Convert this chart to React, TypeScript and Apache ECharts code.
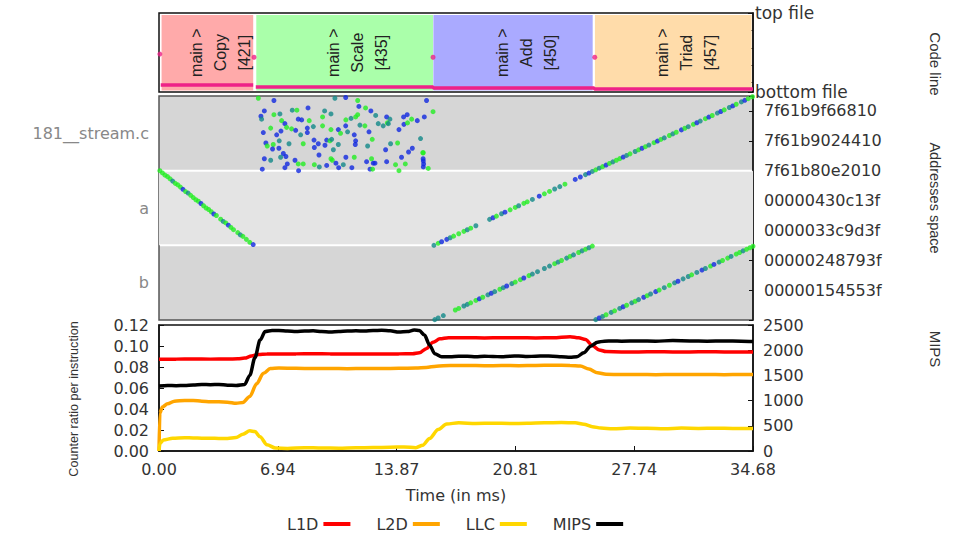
import { useEffect, useRef } from 'react';
import * as echarts from 'echarts';

// ---------- shared time axis ----------
const TIME_MAX = 34.68;
const TIME_INTERVAL = 6.936;

// ---------- code line panel ----------
const codeRegionNames = ['Copy', 'Scale', 'Add', 'Triad'];
const codeRegionLines = [421, 435, 450, 457];
const codeRegionStart = [0.15, 5.68, 16.02, 25.45];
const codeRegionEnd = [5.5, 16.0, 25.32, 34.6];
const codeRegionColors = ['#ffaaaa', '#aaffaa', '#aaaaff', '#ffdcaa'];
const codeEntryMarkers = [[0.05, 0.48], [5.55, 0.44], [16.0, 0.44], [25.44, 0.44]];
const codeLineBand: any[] = [
  [0.1, 0.089], [5.5, 0.089], [5.6, '-'], [5.65, 0.063], [16.0, 0.063],
  [16.02, 0.05], [25.4, 0.05], [25.42, 0.038], [34.68, 0.038],
];

// ---------- address panel ----------
const addrTickValues = [0.4, 0.8, 1.2, 1.6, 2.0, 2.4, 2.8];
const addrTickLabels = ['00000154553f', '00000248793f', '0000033c9d3f', '00000430c13f', '7f61b80e2010', '7f61b9024410', '7f61b9f66810'];
const addrBandCenters = [0.5, 1.5, 2.5];
const addrBandNames = ['b', 'a', '181__stream.c'];
const addrHighlightBand = [[1, 2]];
const dotColors = ['#22ee22', '#118888', '#1028e0'];

// [time, address position, colour index]
const copyLine = [
  [0.05, 2.0, 0], [0.2, 1.97, 0], [0.35, 1.94, 0], [0.5, 1.92, 0], [0.65, 1.89, 0], [0.8, 1.86, 1], [0.95, 1.83, 0],
  [1.1, 1.81, 0], [1.25, 1.78, 0], [1.4, 1.75, 2], [1.55, 1.72, 0], [1.7, 1.7, 1], [1.85, 1.67, 0], [2.0, 1.64, 0],
  [2.15, 1.61, 0], [2.3, 1.59, 0], [2.45, 1.56, 2], [2.6, 1.53, 0], [2.75, 1.5, 0], [2.9, 1.48, 0], [3.05, 1.45, 0],
  [3.2, 1.42, 2], [3.35, 1.4, 0], [3.6, 1.35, 0], [3.75, 1.32, 1], [3.9, 1.3, 0], [4.05, 1.27, 2], [4.2, 1.24, 0],
  [4.35, 1.21, 0], [4.6, 1.17, 0], [4.75, 1.14, 1], [4.9, 1.12, 0], [5.1, 1.08, 0], [5.3, 1.04, 0], [5.5, 1.01, 2],
];

const scaleScatter = [
  [5.8, 2.97, 0], [6.71, 2.94, 2], [10.27, 2.97, 1], [10.9, 2.98, 2], [11.6, 2.94, 0], [15.62, 2.94, 2],
  [6.15, 2.8, 2], [6.71, 2.75, 0], [7.06, 2.76, 1], [5.95, 2.73, 2], [5.99, 2.69, 1], [7.78, 2.81, 1], [8.05, 2.81, 0],
  [8.7, 2.84, 2], [9.67, 2.8, 1], [10.04, 2.76, 1], [11.67, 2.86, 2], [12.06, 2.84, 0], [12.37, 2.8, 2], [12.65, 2.74, 1],
  [13.29, 2.72, 2], [13.48, 2.69, 1], [14.28, 2.72, 2], [14.49, 2.75, 2], [14.75, 2.69, 0], [15.08, 2.67, 2], [15.49, 2.72, 2],
  [16.0, 2.79, 0], [7.16, 2.67, 0], [8.13, 2.69, 2], [8.33, 2.68, 2], [8.77, 2.67, 0], [9.55, 2.72, 0], [10.91, 2.68, 0],
  [11.21, 2.7, 1], [11.48, 2.72, 0], [11.6, 2.75, 0], [7.35, 2.63, 2], [6.52, 2.57, 0], [7.45, 2.58, 0], [7.74, 2.56, 0],
  [7.98, 2.54, 2], [8.66, 2.57, 2], [9.01, 2.59, 1], [9.55, 2.6, 0], [10.04, 2.55, 0], [10.47, 2.55, 2], [10.9, 2.6, 2],
  [11.73, 2.61, 1], [12.02, 2.6, 0], [12.8, 2.63, 1], [13.09, 2.6, 1], [13.33, 2.64, 0], [13.39, 2.63, 1], [14.3, 2.62, 2],
  [14.51, 2.64, 0], [6.09, 2.51, 2], [6.87, 2.48, 2], [7.12, 2.53, 2], [8.27, 2.48, 1], [8.66, 2.51, 2], [10.6, 2.5, 0],
  [11.01, 2.52, 1], [11.4, 2.48, 2], [12.26, 2.52, 2], [14.01, 2.55, 2], [7.02, 2.4, 1], [6.24, 2.37, 2], [6.32, 2.33, 0],
  [6.67, 2.35, 0], [8.42, 2.36, 0], [9.05, 2.41, 2], [9.3, 2.36, 2], [9.79, 2.41, 2], [9.98, 2.4, 0], [10.08, 2.42, 1],
  [10.47, 2.35, 1], [11.48, 2.4, 2], [11.46, 2.35, 2], [12.18, 2.33, 1], [12.45, 2.42, 0], [13.52, 2.36, 1], [13.93, 2.37, 0],
  [15.27, 2.43, 1], [6.63, 2.29, 2], [7.0, 2.3, 2], [7.59, 2.36, 1], [9.07, 2.31, 2], [9.69, 2.34, 2], [10.18, 2.28, 1],
  [13.23, 2.28, 2], [14.57, 2.25, 2], [14.79, 2.3, 2], [15.43, 2.24, 0], [7.26, 2.23, 2], [7.41, 2.19, 2], [9.34, 2.21, 2],
  [7.1, 2.18, 1], [10.91, 2.18, 2], [11.4, 2.18, 0], [14.16, 2.18, 2], [6.15, 2.16, 2], [6.52, 2.14, 1], [7.94, 2.14, 2],
  [10.04, 2.16, 0], [10.12, 2.14, 0], [12.41, 2.16, 0], [12.12, 2.12, 2], [13.29, 2.12, 2], [15.43, 2.13, 2], [7.49, 2.09, 2],
  [8.13, 2.09, 0], [8.42, 2.09, 0], [9.07, 2.08, 0], [9.36, 2.05, 1], [9.79, 2.07, 2], [10.33, 2.1, 2], [10.49, 2.04, 2],
  [10.76, 2.08, 1], [11.26, 2.04, 2], [12.51, 2.1, 2], [12.61, 2.1, 2], [13.81, 2.08, 0], [14.38, 2.09, 0], [15.43, 2.05, 2],
  [15.72, 2.03, 0], [6.03, 2.02, 2], [7.35, 2.04, 2], [8.15, 2.0, 2], [12.32, 2.02, 2], [12.47, 2.02, 0], [14.01, 2.0, 0],
  [15.4, 2.24, 0], [15.42, 2.16, 2], [15.45, 2.09, 2],
];

const addLineA = [
  [16.05, 1.0, 1], [16.3, 1.027, 0], [16.5, 1.048, 2], [16.8, 1.08, 2], [17.0, 1.102, 1], [17.2, 1.123, 0], [17.5, 1.155, 0],
  [17.8, 1.187, 0], [18.0, 1.209, 1], [18.2, 1.23, 0], [18.5, 1.262, 1], [19.3, 1.348, 1], [19.5, 1.369, 2], [19.7, 1.391, 0],
  [20.0, 1.423, 1], [20.2, 1.444, 2], [20.5, 1.476, 0], [20.8, 1.508, 0], [21.0, 1.53, 1], [21.3, 1.562, 0], [21.5, 1.583, 0],
  [21.8, 1.615, 1], [22.2, 1.658, 2], [22.5, 1.69, 0], [22.8, 1.722, 0], [23.1, 1.754, 1], [23.4, 1.786, 1], [23.7, 1.819, 0],
  [24.3, 1.883, 2], [24.6, 1.915, 2], [24.9, 1.947, 1], [25.1, 1.968, 2], [25.3, 1.99, 1], [25.5, 2.011, 0], [25.7, 2.033, 1],
  [25.9, 2.054, 0], [26.1, 2.075, 2], [26.3, 2.097, 0], [26.5, 2.118, 1], [26.7, 2.14, 0], [26.9, 2.161, 0], [27.1, 2.182, 2],
  [27.3, 2.204, 1], [27.5, 2.225, 0], [27.8, 2.257, 1], [28.0, 2.279, 0], [28.2, 2.3, 2], [28.4, 2.321, 0], [28.6, 2.343, 1],
  [28.9, 2.375, 0], [29.1, 2.396, 2], [29.3, 2.418, 0], [29.5, 2.439, 1], [29.8, 2.471, 0], [30.0, 2.493, 1], [30.2, 2.514, 0],
  [30.5, 2.546, 2], [30.7, 2.568, 0], [30.9, 2.589, 1], [31.2, 2.621, 0], [31.4, 2.642, 2], [31.6, 2.664, 1], [31.9, 2.696, 0],
  [32.1, 2.718, 2], [32.3, 2.739, 0], [32.6, 2.771, 1], [32.8, 2.792, 2], [33.0, 2.814, 0], [33.3, 2.846, 1], [33.5, 2.867, 2],
  [33.7, 2.889, 0], [34.0, 2.921, 1], [34.2, 2.942, 2], [34.4, 2.964, 0], [34.65, 2.99, 0],
];

const addLineB = [
  [16.1, 0.005, 1], [16.3, 0.027, 1], [16.6, 0.059, 1], [17.3, 0.134, 0], [17.5, 0.155, 0], [17.8, 0.187, 1], [18.0, 0.209, 1],
  [18.2, 0.23, 0], [18.5, 0.262, 0], [18.7, 0.284, 2], [18.9, 0.305, 0], [19.2, 0.337, 1], [19.4, 0.358, 2], [19.6, 0.38, 1],
  [19.9, 0.412, 0], [20.1, 0.433, 1], [20.3, 0.455, 2], [20.6, 0.487, 1], [20.8, 0.508, 0], [21.1, 0.54, 0], [21.3, 0.562, 2],
  [21.6, 0.594, 0], [21.8, 0.615, 1], [22.1, 0.647, 1], [22.5, 0.69, 1], [22.8, 0.722, 1], [23.1, 0.754, 0], [23.3, 0.776, 1],
  [23.5, 0.797, 0], [23.8, 0.829, 1], [24.0, 0.851, 0], [24.2, 0.872, 1], [24.5, 0.904, 0], [24.7, 0.926, 1], [24.9, 0.947, 0],
  [25.1, 0.968, 1], [25.3, 0.99, 0],
];

const triadLineB = [
  [25.5, 0.005, 1], [25.7, 0.027, 2], [25.9, 0.048, 1], [26.1, 0.07, 0], [26.4, 0.102, 1], [26.6, 0.123, 0], [26.9, 0.155, 1],
  [27.1, 0.177, 2], [27.3, 0.198, 0], [27.6, 0.23, 1], [27.8, 0.251, 0], [28.0, 0.273, 1], [28.3, 0.305, 2], [28.5, 0.326, 0],
  [28.7, 0.348, 1], [29.0, 0.38, 2], [29.2, 0.401, 0], [29.5, 0.433, 1], [29.8, 0.465, 0], [30.1, 0.498, 1], [30.3, 0.519, 2],
  [30.6, 0.551, 1], [30.9, 0.583, 1], [31.1, 0.605, 0], [31.4, 0.637, 1], [31.7, 0.669, 2], [31.9, 0.69, 1], [32.2, 0.722, 0],
  [32.4, 0.744, 2], [32.7, 0.776, 1], [32.9, 0.797, 0], [33.2, 0.829, 0], [33.4, 0.851, 1], [33.7, 0.883, 0], [33.9, 0.904, 0],
  [34.1, 0.926, 1], [34.3, 0.947, 0], [34.5, 0.968, 0], [34.68, 0.988, 0],
];

// ---------- counters panel ----------
const counterTicksLeft = { min: 0, max: 0.12, interval: 0.02 };
const mipsTicks = { min: 0, max: 2500, interval: 500 };

const l1dData = [
  [0, 0.0875], [1, 0.0875], [2, 0.0876], [3, 0.0875], [4, 0.0876], [4.6, 0.0878], [5.0, 0.0885], [5.4, 0.0905], [5.8, 0.0918],
  [6.3, 0.0924], [7, 0.0925], [8, 0.0925], [9, 0.0926], [10, 0.0925], [11, 0.0925], [12, 0.0925], [13, 0.0925], [14, 0.0925],
  [14.8, 0.0926], [15.2, 0.0935], [15.6, 0.0975], [16.0, 0.1035], [16.4, 0.1068], [16.9, 0.1078], [18, 0.1078], [19, 0.1077],
  [20, 0.1078], [21, 0.1078], [22, 0.1077], [23, 0.1078], [24.0, 0.1088], [24.5, 0.1078], [24.9, 0.1062], [25.3, 0.1005],
  [25.7, 0.0962], [26.1, 0.0947], [27, 0.0944], [28, 0.0944], [29, 0.0945], [30, 0.0944], [31, 0.0944], [32, 0.0945],
  [33, 0.0944], [34, 0.0944], [34.68, 0.0944],
];

const l2dData = [
  [0, 0], [0.05, 0.036], [0.2, 0.042], [0.5, 0.045], [0.9, 0.0475], [1.5, 0.0482], [2, 0.048], [2.5, 0.0475], [3, 0.047],
  [3.5, 0.0468], [4, 0.0465], [4.5, 0.0455], [4.9, 0.0462], [5.3, 0.052], [5.7, 0.064], [6.1, 0.074], [6.5, 0.0785], [7, 0.079],
  [8, 0.0788], [9, 0.0785], [10, 0.0786], [11, 0.0784], [12, 0.0786], [13, 0.0785], [14, 0.0787], [15, 0.079], [15.6, 0.0795],
  [16.2, 0.0808], [17, 0.0815], [18, 0.0815], [19, 0.0812], [20, 0.0814], [21, 0.0813], [22, 0.0815], [23, 0.0816], [24, 0.0815],
  [24.6, 0.081], [25.1, 0.078], [25.6, 0.0745], [26.1, 0.0731], [27, 0.0728], [28, 0.0729], [29, 0.0727], [30, 0.0728],
  [31, 0.0729], [32, 0.0728], [33, 0.0727], [34, 0.0728], [34.68, 0.0728],
];

const llcData = [
  [0, 0], [0.05, 0.007], [0.25, 0.0105], [0.8, 0.0122], [1.5, 0.0127], [2, 0.0125], [2.5, 0.0122], [3, 0.0121], [3.5, 0.012],
  [4, 0.012], [4.5, 0.0128], [4.9, 0.016], [5.3, 0.0192], [5.6, 0.0185], [5.9, 0.0135], [6.3, 0.006], [6.8, 0.0028], [7.5, 0.0025],
  [8.5, 0.0032], [9.5, 0.0028], [10.5, 0.0027], [11.5, 0.0031], [12.5, 0.0033], [13.5, 0.0036], [14.3, 0.0038], [15, 0.0032],
  [15.4, 0.0055], [15.8, 0.012], [16.3, 0.0205], [16.8, 0.0258], [17.5, 0.0268], [18.5, 0.0262], [19.5, 0.0265], [20.5, 0.0262],
  [21.5, 0.0264], [22.5, 0.0268], [23.5, 0.0272], [24.3, 0.0268], [24.8, 0.0255], [25.3, 0.0232], [25.8, 0.0218], [26.5, 0.0212],
  [27.5, 0.0218], [28.5, 0.0216], [29.5, 0.0212], [30.5, 0.0218], [31.5, 0.0215], [32.5, 0.0216], [33.5, 0.0215], [34.68, 0.0215],
];

const mipsData = [
  [0, 1290], [0.5, 1300], [1, 1295], [1.5, 1300], [2, 1310], [2.5, 1320], [3, 1315], [3.5, 1320], [4, 1305], [4.5, 1300],
  [5, 1320], [5.3, 1500], [5.6, 1850], [5.9, 2200], [6.2, 2370], [6.6, 2390], [7, 2390], [7.5, 2380], [8, 2370], [8.5, 2380],
  [9, 2385], [9.5, 2370], [10, 2360], [10.5, 2370], [11, 2380], [11.5, 2385], [12, 2380], [12.5, 2390], [13, 2395], [13.5, 2385],
  [14, 2360], [14.5, 2370], [14.9, 2400], [15.2, 2390], [15.5, 2300], [15.8, 2100], [16.1, 1930], [16.5, 1870], [17, 1870],
  [17.5, 1880], [18, 1880], [18.5, 1870], [19, 1880], [19.5, 1875], [20, 1870], [20.5, 1880], [21, 1885], [21.5, 1875],
  [22, 1880], [22.5, 1885], [23, 1880], [23.5, 1870], [24, 1860], [24.4, 1870], [24.8, 1950], [25.2, 2080], [25.6, 2160],
  [26, 2180], [26.5, 2185], [27, 2180], [28, 2185], [29, 2180], [30, 2190], [31, 2185], [32, 2180], [33, 2185], [34, 2180],
  [34.68, 2175],
];

const legendNames = ['L1D', 'L2D', 'LLC', 'MIPS'];

const TICK_FONT = 'DejaVu Sans';
const NAME_FONT = 'Liberation Sans';

export default function App() {
  const ref = useRef<HTMLDivElement>(null);

  useEffect(() => {
    if (!ref.current) return;
    const chart = echarts.init(ref.current, undefined, { renderer: 'svg' });

    const tickLabel = { fontFamily: TICK_FONT, fontSize: 16, color: '#333' };
    const nameText = (text: string, x: number, y: number, rotation: number, fontSize: number) => ({
      type: 'text', x, y, rotation, silent: true,
      style: {
        text, fontFamily: NAME_FONT, fontSize, fill: '#333',
        textAlign: 'center', textVerticalAlign: 'middle', align: 'center', verticalAlign: 'middle',
      },
    });
    const addrScatter = (name: string, data: number[][]) => ({
      name,
      type: 'scatter',
      xAxisIndex: 1,
      yAxisIndex: 3,
      data,
      symbolSize: 5,
      z: 5,
      silent: true,
      itemStyle: { color: (p: any) => dotColors[p.data[2]] },
    });
    const counterLine = (name: string, data: number[][], color: string, yAxisIndex: number) => ({
      name,
      type: 'line',
      xAxisIndex: 2,
      yAxisIndex,
      data,
      showSymbol: false,
      smooth: 0.3,
      smoothMonotone: 'x',
      lineStyle: { color, width: 3.5 },
      itemStyle: { color },
      silent: true,
    });

    const option: any = {
      animation: false,
      backgroundColor: '#ffffff',
      grid: [
        { left: 159, top: 13, width: 594, height: 79, show: true, borderColor: '#111', borderWidth: 1.5, backgroundColor: '#fff' },
        { left: 159, top: 96, width: 594, height: 224, show: true, borderColor: '#555', borderWidth: 1.5, backgroundColor: '#d6d6d6' },
        { left: 159, top: 325, width: 594, height: 126, show: true, borderColor: '#111', borderWidth: 1.5, backgroundColor: '#fff' },
      ],
      xAxis: [
        { type: 'value', gridIndex: 0, min: 0, max: TIME_MAX, show: false },
        { type: 'value', gridIndex: 1, min: 0, max: TIME_MAX, show: false },
        {
          type: 'value', gridIndex: 2, min: 0, max: TIME_MAX, interval: TIME_INTERVAL,
          axisLine: { show: true, lineStyle: { color: '#111', width: 1.5 } },
          axisTick: { show: true, inside: true, length: 5, lineStyle: { color: '#111' } },
          splitLine: { show: false },
          axisLabel: { ...tickLabel, margin: 10, formatter: (v: number) => v.toFixed(2) },
          name: 'Time (in ms)', nameLocation: 'middle', nameGap: 36,
          nameTextStyle: { fontFamily: TICK_FONT, fontSize: 16, color: '#333' },
        },
      ],
      yAxis: [
        {
          type: 'value', gridIndex: 0, min: 0, max: 1, interval: 1, position: 'right',
          axisLine: { show: false }, axisTick: { show: false }, splitLine: { show: false },
          axisLabel: { ...tickLabel, fontSize: 17, margin: 2, formatter: (v: number) => (v === 1 ? 'top file' : v === 0 ? 'bottom file' : '') },
        },
        {
          type: 'value', gridIndex: 0, min: 0, max: 1, interval: 0.22, inverse: true, position: 'right',
          axisLine: { show: true, lineStyle: { color: '#111', width: 1.5 } },
          axisTick: { show: true, inside: true, length: 5, lineStyle: { color: '#111' } },
          axisLabel: { show: false }, splitLine: { show: false },
        },
        {
          type: 'value', gridIndex: 1, min: 0, max: 3, interval: 0.5, position: 'left',
          axisLine: { show: false }, axisTick: { show: false }, splitLine: { show: false },
          axisLabel: {
            ...tickLabel, color: '#888', margin: 10,
            formatter: (v: number) => {
              const i = addrBandCenters.findIndex((c) => Math.abs(c - v) < 1e-6);
              return i >= 0 ? addrBandNames[i] : '';
            },
          },
        },
        {
          type: 'value', gridIndex: 1, min: 0, max: 3, interval: 0.4, position: 'right',
          axisLine: { show: true, lineStyle: { color: '#111', width: 1.5 } },
          axisTick: { show: true, inside: true, length: 4, lineStyle: { color: '#111' } },
          splitLine: { show: false },
          axisLabel: {
            ...tickLabel, margin: 11,
            formatter: (v: number) => {
              const i = addrTickValues.findIndex((c) => Math.abs(c - v) < 1e-6);
              return i >= 0 ? addrTickLabels[i] : '';
            },
          },
        },
        {
          type: 'value', gridIndex: 2, ...counterTicksLeft, position: 'left',
          axisLine: { show: true, lineStyle: { color: '#111', width: 1.5 } },
          axisTick: { show: true, inside: true, length: 5, lineStyle: { color: '#111' } },
          splitLine: { show: false },
          axisLabel: { ...tickLabel, margin: 10, formatter: (v: number) => v.toFixed(2) },
        },
        {
          type: 'value', gridIndex: 2, ...mipsTicks, position: 'right',
          axisLine: { show: true, lineStyle: { color: '#111', width: 1.5 } },
          axisTick: { show: true, inside: true, length: 5, lineStyle: { color: '#111' } },
          splitLine: { show: false },
          axisLabel: { ...tickLabel, margin: 10, formatter: (v: number) => String(Math.round(v)) },
        },
      ],
      legend: {
        data: legendNames,
        left: 282,
        top: 511,
        align: 'right',
        icon: 'rect',
        itemWidth: 27,
        itemHeight: 4,
        itemGap: 26,
        textStyle: { fontFamily: TICK_FONT, fontSize: 16, color: '#333' },
      },
      graphic: [
        nameText('Code line', 935, 64, -Math.PI / 2, 15),
        nameText('Addresses space', 935, 198, -Math.PI / 2, 14.5),
        nameText('MIPS', 935, 349, -Math.PI / 2, 15),
        nameText('Counter ratio per instruction', 74, 399, Math.PI / 2, 12.6),
      ],
      series: [
        {
          name: 'code-regions',
          type: 'custom',
          xAxisIndex: 0,
          yAxisIndex: 0,
          silent: true,
          z: 1,
          data: codeRegionStart.map((s, i) => [s, codeRegionEnd[i], i]),
          renderItem: (_params: any, api: any) => {
            const idx = api.value(2);
            const p0 = api.coord([api.value(0), 0.975]);
            const p1 = api.coord([api.value(1), 0.02]);
            const cx = (p0[0] + p1[0]) / 2 + 13;
            const cy = (p0[1] + p1[1]) / 2;
            return {
              type: 'group',
              children: [
                { type: 'rect', shape: { x: p0[0], y: p0[1], width: p1[0] - p0[0], height: p1[1] - p0[1] }, style: { fill: codeRegionColors[idx] } },
                {
                  type: 'text', x: cx, y: cy, rotation: Math.PI / 2,
                  style: {
                    text: `main >\n${codeRegionNames[idx]}\n[${codeRegionLines[idx]}]`,
                    fontFamily: NAME_FONT, fontSize: 16, lineHeight: 24, fill: '#222',
                    align: 'center', verticalAlign: 'middle', textAlign: 'center', textVerticalAlign: 'middle',
                  },
                },
              ],
            };
          },
        },
        {
          name: 'code-lines',
          type: 'line',
          xAxisIndex: 0,
          yAxisIndex: 0,
          data: codeLineBand,
          showSymbol: false,
          connectNulls: false,
          silent: true,
          z: 3,
          lineStyle: { color: '#ee2288', width: 3.5 },
        },
        {
          name: 'code-entries',
          type: 'scatter',
          xAxisIndex: 0,
          yAxisIndex: 0,
          data: codeEntryMarkers,
          symbolSize: 5,
          silent: true,
          z: 4,
          itemStyle: { color: '#ee2288' },
        },
        {
          name: 'addr-bands',
          type: 'custom',
          xAxisIndex: 1,
          yAxisIndex: 3,
          silent: true,
          z: 1,
          data: addrHighlightBand,
          renderItem: (_params: any, api: any) => {
            const p0 = api.coord([0, api.value(1)]);
            const p1 = api.coord([TIME_MAX, api.value(0)]);
            return {
              type: 'group',
              children: [
                { type: 'rect', shape: { x: p0[0], y: p0[1], width: p1[0] - p0[0], height: p1[1] - p0[1] }, style: { fill: '#e4e4e4' } },
                { type: 'line', shape: { x1: p0[0] + 1, y1: p0[1], x2: p1[0] - 1, y2: p0[1] }, style: { stroke: '#ffffff', lineWidth: 2 } },
                { type: 'line', shape: { x1: p0[0] + 1, y1: p1[1], x2: p1[0] - 1, y2: p1[1] }, style: { stroke: '#ffffff', lineWidth: 2 } },
              ],
            };
          },
        },
        addrScatter('addr-copy', copyLine),
        addrScatter('addr-scale', scaleScatter),
        addrScatter('addr-add-a', addLineA),
        addrScatter('addr-add-b', addLineB),
        addrScatter('addr-triad-b', triadLineB),
        counterLine('L1D', l1dData, '#ff0000', 4),
        counterLine('L2D', l2dData, '#ffa500', 4),
        counterLine('LLC', llcData, '#ffd700', 4),
        counterLine('MIPS', mipsData, '#000000', 5),
      ],
    };

    chart.setOption(option);
    return () => chart.dispose();
  }, []);

  return <div ref={ref} style={{ position: 'fixed', left: 0, top: 0, width: 962, height: 536 }} />;
}
